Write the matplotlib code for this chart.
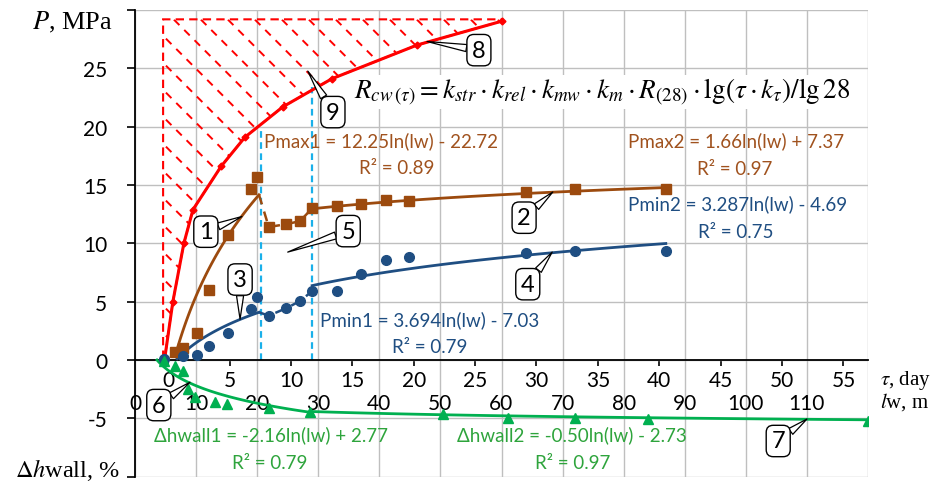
import matplotlib as mpl

mpl.use("Agg")

import matplotlib.pyplot as plt
import numpy as np
from matplotlib.patches import Polygon

plt.rcParams["font.family"] = ["Lato", "DejaVu Sans"]
plt.rcParams["mathtext.fontset"] = "stix"

# strength curve R(tau), line 8 (x in lw units of the main axis)
red_lw = [4.9, 6.2, 8.0, 9.5, 14.1, 18.0, 24.2, 32.2, 46.2, 60.1]
red_p = [0.26, 5.0, 10.0, 12.9, 16.6, 19.1, 21.7, 24.1, 27.0, 29.05]

# maximum pressure points (brown squares)
brown_lw = [6.5, 7.9, 10.1, 12.1, 15.2, 19.0, 20.0, 21.9, 24.8, 27.0, 29.0,
            33.1, 37.0, 41.1, 44.8, 64.0, 72.0, 86.9]
brown_p = [0.65, 1.0, 2.3, 6.0, 10.7, 14.7, 15.7, 11.4, 11.65, 11.9, 13.0,
           13.2, 13.4, 13.7, 13.6, 14.4, 14.65, 14.65]

# minimum pressure points (blue circles)
blue_lw = [4.7, 7.9, 10.1, 12.1, 15.2, 19.0, 20.0, 21.9, 24.8, 27.0, 29.0,
           33.1, 37.0, 41.1, 44.8, 64.0, 72.0, 86.9]
blue_p = [0.1, 0.35, 0.45, 1.2, 2.3, 4.4, 5.4, 3.8, 4.45, 5.05, 5.9,
          5.9, 7.4, 8.55, 8.8, 9.2, 9.35, 9.35]

# wall displacement points (green triangles)
green_lw = [4.7, 6.5, 7.9, 8.7, 9.8, 13.1, 15.1, 21.9, 28.7, 50.4, 61.0,
            72.0, 84.0, 120.0]
green_p = [-0.1, -0.5, -0.95, -2.5, -3.2, -3.6, -3.8, -4.1, -4.45, -4.6,
           -4.95, -5.0, -5.05, -5.2]

# transition points joined by dashed lines
trans_lw = [21.9, 24.8, 27.0, 29.0]
trans_brown = [11.4, 11.65, 11.9, 13.0]
trans_blue = [3.8, 4.45, 5.05, 5.9]

# log trendlines: y = a*ln(lw) + b over [lw_from, lw_to]
trend_a = [12.25, 1.66, 3.694, 3.287, -2.16, -0.50]
trend_b = [-22.72, 7.37, -7.03, -4.69, 2.77, -2.73]
trend_from = [6.9, 29.0, 6.9, 29.0, 3.6, 29.0]
trend_to = [20.3, 86.9, 20.3, 86.9, 29.0, 120.0]

# boundaries of the transition zone (cyan dashed)
zone_lw = [20.6, 29.0]
zone_top = [20.0, 23.4]

# hatched zone corners
hatch_left = 4.6
hatch_top = 29.2

tau_ticks = list(range(0, 56, 5))
tau_min, tau_max = -2.7, 57.0
lw_ticks = list(range(0, 121, 10))
y_ticks = list(range(-10, 31, 5))

RED = "#FF0000"
BROWN = "#9C4A0E"
BROWN_TXT = "#A0521E"
BLUE = "#1F4E82"
GREEN = "#00B050"
GREEN_TXT = "#2EA43C"
CYAN = "#1AB0EA"
GRID = "#BFBFBF"

fig = plt.figure(figsize=(9.51, 4.85), dpi=100)
ax = fig.add_axes([135 / 951, 7.3 / 485, 733 / 951, 466.7 / 485])
ax.set_xlim(0, 120)
ax.set_ylim(-10, 30)
ax.set_axisbelow(True)

# hatched area above the strength curve
poly = Polygon(list(zip([hatch_left, hatch_left, red_lw[-1]] + red_lw[::-1],
                        [0.1, hatch_top, hatch_top] + red_p[::-1])),
               closed=True, fill=False, ec=RED, lw=1.5, ls=(0, (4, 2.5)), zorder=2)
ax.add_patch(poly)
W, H = 733.0, 466.7
for c in np.arange(10, W + H, 27):
    ln, = ax.plot([0, c / W], [c / H, 0], transform=ax.transAxes, color=RED,
                  lw=1.4, ls=(0, (4, 3.5)), zorder=2)
    ln.set_clip_path(poly)

# transition zone borders
for x, top in zip(zone_lw, zone_top):
    ax.plot([x, x], [0, top], color=CYAN, lw=1.6, ls=(0, (3, 2)), zorder=2)

# red strength line
ax.plot(red_lw, red_p, color=RED, lw=2.2, marker="D", ms=3.5, zorder=5)

# trendlines
colors = [BROWN, BROWN, BLUE, BLUE, GREEN, GREEN]
for a, b, x0, x1, col in zip(trend_a, trend_b, trend_from, trend_to, colors):
    xs = np.linspace(x0, x1, 120)
    ax.plot(xs, a * np.log(xs) + b, color=col, lw=2.0, zorder=4)

end_lw = trend_to[0]
ax.plot([end_lw] + trans_lw, [trend_a[0] * np.log(end_lw) + trend_b[0]] + trans_brown,
        color=BROWN, lw=1.8, ls=(0, (4, 3)), zorder=4)
ax.plot([end_lw] + trans_lw, [trend_a[2] * np.log(end_lw) + trend_b[2]] + trans_blue,
        color=BLUE, lw=1.8, ls=(0, (4, 3)), zorder=4)

ax.plot(brown_lw, brown_p, ls="none", marker="s", ms=7, color=BROWN, zorder=6)
ax.plot(blue_lw, blue_p, ls="none", marker="o", ms=7, color=BLUE, zorder=6)
ax.plot(green_lw, green_p, ls="none", marker="^", ms=6.5, color=GREEN, zorder=6)

# axes and ticks
for s in ["top", "right"]:
    ax.spines[s].set_visible(False)
ax.spines["bottom"].set_position(("data", 0))
ax.spines["bottom"].set_linewidth(1.3)
ax.spines["left"].set_linewidth(1.3)

tau_pos = [(t - tau_min) / (tau_max - tau_min) * 120 for t in tau_ticks]
ax.set_xticks(tau_pos)
ax.set_xticklabels([str(t) for t in tau_ticks])
ax.set_xticks(lw_ticks, minor=True)
ax.set_xticklabels([str(v) for v in lw_ticks[:-1]] + [""], minor=True)
ax.tick_params(axis="x", which="major", direction="out", length=4, width=1.2,
               pad=3, labelsize=15)
ax.tick_params(axis="x", which="minor", length=0, pad=24, labelsize=15)
ax.set_yticks(y_ticks)
ax.set_yticklabels([""] + [str(v) for v in y_ticks[1:-1]] + [""])
ax.tick_params(axis="y", direction="out", length=6, width=1.2, pad=14, labelsize=15)
ax.grid(axis="x", which="minor", color=GRID, lw=1.0)
ax.grid(axis="y", which="major", color=GRID, lw=1.0)

# trendline equations
eq_style = dict(ha="center", va="center", fontsize=13.5)
ax.text(40.3, 18.8, "Pmax1 = 12.25ln(lw) - 22.72", color=BROWN_TXT, **eq_style)
ax.text(42.9, 16.5, "R² = 0.89", color=BROWN_TXT, **eq_style)
ax.text(98.4, 18.8, "Pmax2 = 1.66ln(lw) + 7.37", color=BROWN_TXT, **eq_style)
ax.text(98.2, 16.4, "R² = 0.97", color=BROWN_TXT, **eq_style)
ax.text(98.6, 13.4, "Pmin2 = 3.287ln(lw) - 4.69", color=BLUE, **eq_style)
ax.text(98.4, 11.0, "R² = 0.75", color=BLUE, **eq_style)
ax.text(48.3, 3.5, "Pmin1 = 3.694ln(lw) - 7.03", color=BLUE, **eq_style)
ax.text(48.3, 1.2, "R² = 0.79", color=BLUE, **eq_style)
ax.text(22.3, -6.4, "Δhwall1 = -2.16ln(lw) + 2.77", color=GREEN_TXT, **eq_style)
ax.text(22.1, -8.8, "R² = 0.79", color=GREEN_TXT, **eq_style)
ax.text(71.5, -6.4, "Δhwall2 = -0.50ln(lw) - 2.73", color=GREEN_TXT, **eq_style)
ax.text(71.7, -8.8, "R² = 0.97", color=GREEN_TXT, **eq_style)

ax.text(76.5, 23.0,
        r"$R_{cw\,(\tau)} = k_{str}\cdot k_{rel}\cdot k_{mw}\cdot k_m\cdot R_{(28)}"
        r"\cdot \mathrm{lg}\left(\tau\cdot k_\tau\right)/\mathrm{lg}\,28$",
        ha="center", va="center", fontsize=19.5, color="black",
        bbox=dict(fc="white", ec="none", pad=1))

# numbered callouts
callout_txt = ["1", "2", "3", "4", "5", "6", "7", "8", "9"]
callout_box = [(11.6, 11.0), (63.7, 12.2), (17.2, 6.9), (64.3, 6.5), (34.9, 11.05),
               (3.9, -3.86), (105.3, -6.94), (56.3, 26.56), (32.4, 21.25)]
callout_tip = [(17.5, 12.3), (68.4, 14.4), (17.2, 3.5), (68.3, 9.25), (25.0, 9.25),
               (9.0, -1.9), (110.0, -5.06), (47.8, 27.3), (28.3, 24.76)]
for t, box, tip in zip(callout_txt, callout_box, callout_tip):
    ax.annotate(t, xy=tip, xytext=box, ha="center", va="center", fontsize=17,
                bbox=dict(boxstyle="round,pad=0.22,rounding_size=0.3", fc="white",
                          ec="black", lw=1.0),
                arrowprops=dict(arrowstyle="wedge,tail_width=0.3,shrink_factor=0.5",
                                fc="white", ec="black", lw=0.9,
                                shrinkA=0, shrinkB=0),
                zorder=8)

# axis titles
serif = ["Liberation Serif", "DejaVu Serif"]
fig.text(72 / 951, 1 - 22 / 485, r"$P$, MPa", ha="center", va="center",
         fontsize=19, family=serif)
fig.text(67 / 951, 1 - 470 / 485, r"$\Delta h$wall, %", ha="center", va="center",
         fontsize=17.5, family=serif)
fig.text(880 / 951, 1 - 381 / 485, r"$\tau$, day", ha="left", va="center",
         fontsize=15, family=serif)
fig.text(880 / 951, 1 - 402 / 485, r"$l$w, m", ha="left", va="center",
         fontsize=15, family=serif)

fig.savefig("out.png", dpi=100)
